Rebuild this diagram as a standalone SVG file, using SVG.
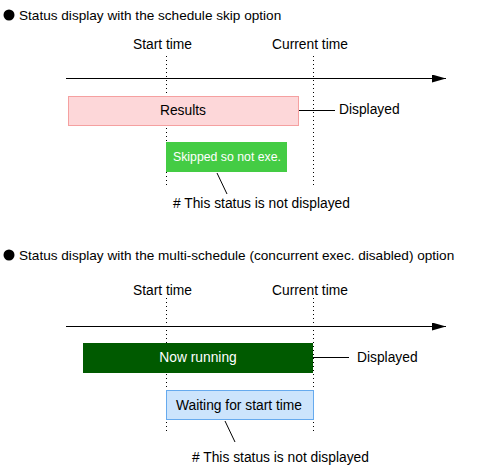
<svg xmlns="http://www.w3.org/2000/svg" width="487" height="474" viewBox="0 0 487 474">
<defs>
<style>
text{font-family:"Liberation Sans",Arial,sans-serif;font-size:13.8px;fill:#000}
.t{font-size:13.6px}
.s{font-size:12.3px}
.w{fill:#fff}
.dot{stroke:#000;stroke-width:1;stroke-dasharray:1,3;fill:none}
.ln{stroke:#000;stroke-width:1;fill:none}
</style>
<marker id="ah" viewBox="0 0 14 8" refX="14" refY="4" markerWidth="14" markerHeight="8" markerUnits="userSpaceOnUse" orient="auto">
<path d="M0,0 L14,4 L0,8 Z" fill="#000"/>
</marker>
</defs>
<g id="section1">
<circle cx="9" cy="15" r="5.5" fill="#000"/>
<text class="t" x="19" y="20">Status display with the schedule skip option</text>
<text x="133" y="49">Start time</text>
<text x="272" y="49">Current time</text>
</g>
<g id="connectors">
<line class="dot" x1="166.5" y1="56" x2="166.5" y2="186"/>
<line class="dot" x1="313.5" y1="56" x2="313.5" y2="186"/>
<line class="ln" x1="66" y1="78.5" x2="446" y2="78.5" marker-end="url(#ah)"/>
<line class="ln" x1="299" y1="110.5" x2="335" y2="110.5"/>
<line class="ln" x1="217" y1="173" x2="227" y2="194"/>
<line class="dot" x1="166.5" y1="298" x2="166.5" y2="431"/>
<line class="dot" x1="313.5" y1="298" x2="313.5" y2="431"/>
<line class="ln" x1="66" y1="326.5" x2="446" y2="326.5" marker-end="url(#ah)"/>
<line class="ln" x1="313" y1="357.5" x2="349" y2="357.5"/>
<line class="ln" x1="225" y1="421" x2="235" y2="442"/>
</g>
<g id="results">
<rect x="68.5" y="96.5" width="230" height="29" fill="#fdd7d9" stroke="#f5a0a0"/>
<text x="183" y="115" text-anchor="middle">Results</text>
</g>
<g id="displayed1"><text x="339" y="114">Displayed</text></g>
<g id="skipped">
<rect x="166" y="142" width="121" height="30" fill="#44cc44"/>
<text class="w s" x="173" y="161">Skipped so not exe.</text>
</g>
<g id="note1"><text x="173" y="208">#  This status is not displayed</text></g>
<g id="section2">
<circle cx="9" cy="255" r="5.5" fill="#000"/>
<text class="t" x="19" y="260">Status display with the multi-schedule (concurrent exec. disabled) option</text>
<text x="133" y="295">Start time</text>
<text x="272" y="295">Current time</text>
</g>
<g id="running">
<rect x="83" y="343" width="230" height="30" fill="#005a00"/>
<text class="w" x="198" y="362" text-anchor="middle">Now running</text>
</g>
<g id="displayed2"><text x="357" y="362">Displayed</text></g>
<g id="waiting">
<rect x="166.5" y="390.5" width="147" height="29" fill="#cce4fc" stroke="#66aaee"/>
<text x="176" y="410">Waiting for start time</text>
</g>
<g id="note2"><text x="192" y="462">#  This status is not displayed</text></g>
</svg>
